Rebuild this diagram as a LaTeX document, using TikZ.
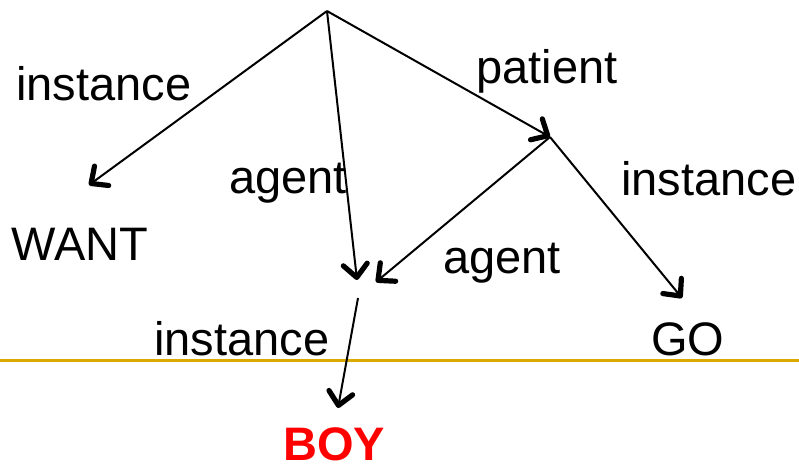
\documentclass[tikz,border=0pt]{standalone}
\usepackage{fontspec}
\setmainfont{Liberation Sans}
\usetikzlibrary{arrows.meta}
\definecolor{rulegold}{RGB}{218,170,0}
\begin{document}
\begin{tikzpicture}[x=0.5pt,y=-0.5pt,
  edge/.style={line width=1pt,-{Straight Barb[length=6.5pt,width=12pt,line width=2.6pt,round]}},
  lbl/.style={anchor=base west,inner sep=0pt,font=\fontsize{23.5}{28}\selectfont},
  concept/.style={lbl},
  focus/.style={lbl,font=\fontsize{23.5}{28}\selectfont\bfseries,text=red}]
\useasboundingbox (0,0) rectangle (799,468);
% separating rule
\draw[rulegold,line width=1.5pt] (0,360) -- (799,360);
% graph points
\coordinate (root) at (327,11);
\coordinate (wantend) at (89,185);
\coordinate (boyin) at (357,280);
\coordinate (pat) at (550,137);
\coordinate (boyin2) at (376,282);
\coordinate (goend) at (682,298);
\coordinate (boyout) at (358,298);
\coordinate (boyend) at (338,408);
% edges
\draw[edge] (root) -- (wantend);
\draw[edge] (root) -- (boyin);
\draw[edge] (root) -- (pat);
\draw[edge] (pat) -- (boyin2);
\draw[edge] (pat) -- (goend);
\draw[edge] (boyout) -- (boyend);
% edge labels
\node[lbl] (l1) at (16,100) {instance};
\node[lbl] (l2) at (229,193) {agent};
\node[lbl] (l3) at (476,83) {patient};
\node[lbl] (l4) at (443,273) {agent};
\node[lbl] (l5) at (621,195) {instance};
\node[lbl] (l6) at (154,355) {instance};
% concepts
\node[concept] (want) at (11,260) {WANT};
\node[concept] (go) at (651,355) {GO};
\node[focus] (boy) at (283,460) {BOY};
\end{tikzpicture}
\end{document}
